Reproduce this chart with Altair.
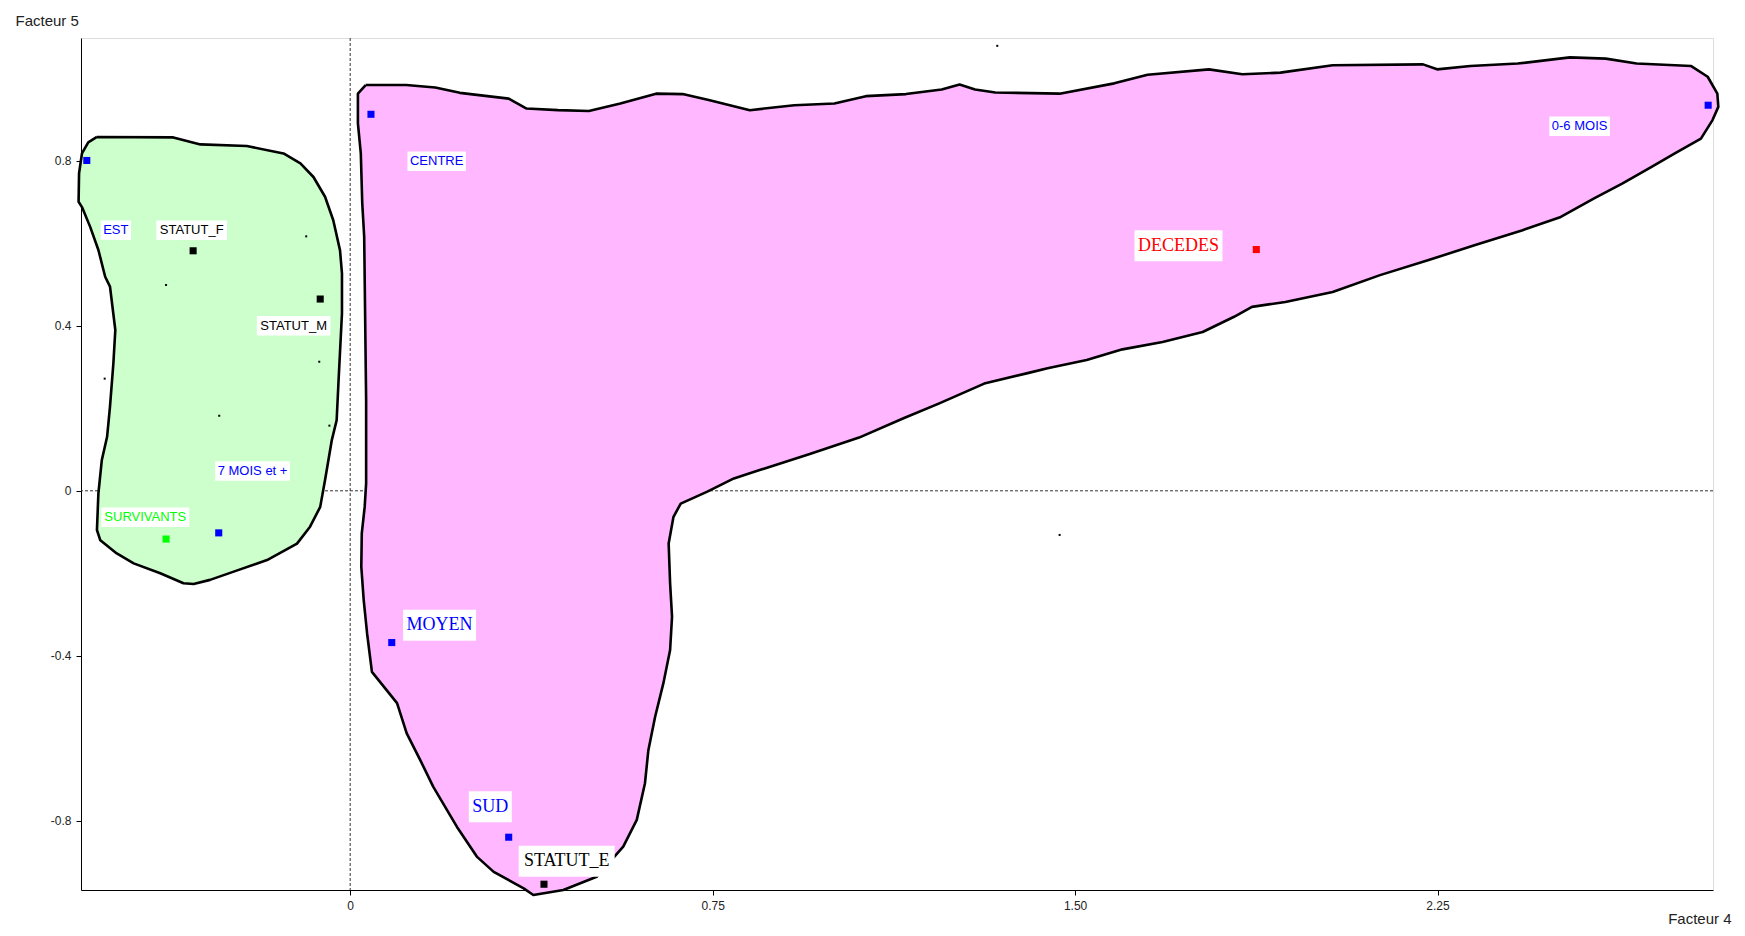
import altair as alt
import pandas as pd

# ---------------- data ----------------
labels = ["EST", "STATUT_F", "STATUT_M", "7 MOIS et +", "SURVIVANTS", "CENTRE",
          "MOYEN", "SUD", "STATUT_E", "DECEDES", "0-6 MOIS"]
point_x = [-0.545, -0.325, -0.062, -0.272, -0.381, 0.043, 0.086, 0.328, 0.401, 1.875, 2.810]
point_y = [0.801, 0.582, 0.465, -0.102, -0.117, 0.913, -0.368, -0.840, -0.954, 0.585, 0.935]
label_x = [-0.485, -0.328, -0.117, -0.202, -0.424, 0.179, 0.185, 0.290, 0.448, 1.714, 2.544]
label_y = [0.632, 0.632, 0.400, 0.048, -0.064, 0.799, -0.326, -0.766, -0.898, 0.594, 0.884]
serif_labels = ["MOYEN", "SUD", "STATUT_E", "DECEDES"]

# unlabelled minor points (tiny specks)
speck_x = [-0.091, -0.381, -0.064, -0.508, -0.271, -0.043, 1.339, 1.468]
speck_y = [0.617, 0.499, 0.313, 0.272, 0.182, 0.158, 1.079, -0.107]

# contour of the "survivants" group
green_x = [-0.524, -0.366, -0.310, -0.214, -0.138, -0.103, -0.076, -0.052, -0.035, -0.021,
           -0.017, -0.017, -0.024, -0.028, -0.038, -0.052, -0.062, -0.083, -0.110, -0.172,
           -0.241, -0.290, -0.324, -0.345, -0.393, -0.448, -0.483, -0.517, -0.524, -0.521,
           -0.514, -0.503, -0.497, -0.490, -0.486, -0.497, -0.507, -0.521, -0.538, -0.555,
           -0.562, -0.561, -0.555, -0.542]
green_y = [0.858, 0.857, 0.840, 0.836, 0.818, 0.794, 0.761, 0.713, 0.656, 0.583,
           0.527, 0.430, 0.268, 0.171, 0.123, 0.026, -0.039, -0.087, -0.128, -0.168,
           -0.196, -0.216, -0.226, -0.224, -0.200, -0.176, -0.152, -0.120, -0.095, -0.006,
           0.074, 0.131, 0.204, 0.309, 0.390, 0.495, 0.519, 0.584, 0.640, 0.688,
           0.701, 0.770, 0.818, 0.845]

# contour of the "décédés" group
pink_x = [0.032, 0.116, 0.176, 0.227, 0.328, 0.365, 0.430, 0.494, 0.559, 0.633,
          0.688, 0.744, 0.827, 0.919, 1.002, 1.067, 1.150, 1.224, 1.261, 1.293,
          1.335, 1.468, 1.581, 1.650, 1.777, 1.846, 1.925, 2.033, 2.220, 2.249,
          2.318, 2.416, 2.524, 2.598, 2.662, 2.775, 2.809, 2.829, 2.831, 2.819,
          2.795, 2.741, 2.692, 2.632, 2.574, 2.505, 2.426, 2.328, 2.230, 2.131,
          2.033, 1.935, 1.866, 1.829, 1.764, 1.681, 1.598, 1.524, 1.443, 1.404,
          1.312, 1.219, 1.145, 1.053, 0.951, 0.841, 0.794, 0.739, 0.684, 0.669,
          0.659, 0.662, 0.666, 0.662, 0.648, 0.631, 0.617, 0.610, 0.593, 0.565,
          0.510, 0.441, 0.379, 0.359, 0.297, 0.262, 0.221, 0.172, 0.145, 0.117,
          0.097, 0.045, 0.035, 0.028, 0.023, 0.024, 0.030, 0.033, 0.033, 0.029,
          0.025, 0.022, 0.016, 0.016]
pink_y = [0.984, 0.984, 0.978, 0.965, 0.951, 0.927, 0.923, 0.921, 0.939, 0.963,
          0.962, 0.947, 0.923, 0.935, 0.939, 0.957, 0.962, 0.973, 0.985, 0.973,
          0.966, 0.963, 0.988, 1.009, 1.022, 1.010, 1.014, 1.032, 1.034, 1.022,
          1.030, 1.036, 1.051, 1.048, 1.036, 1.030, 1.004, 0.963, 0.931, 0.899,
          0.854, 0.818, 0.785, 0.745, 0.709, 0.664, 0.632, 0.596, 0.559, 0.523,
          0.482, 0.458, 0.446, 0.422, 0.385, 0.361, 0.343, 0.317, 0.297, 0.286,
          0.260, 0.212, 0.176, 0.129, 0.089, 0.048, 0.030, -0.002, -0.031, -0.063,
          -0.128, -0.224, -0.305, -0.386, -0.467, -0.548, -0.629, -0.709, -0.798, -0.863,
          -0.936, -0.968, -0.980, -0.964, -0.924, -0.887, -0.815, -0.718, -0.653, -0.588,
          -0.515, -0.439, -0.346, -0.265, -0.184, -0.103, -0.039, 0.018, 0.220, 0.616,
          0.697, 0.818, 0.891, 0.963]

x_ticks = [0, 0.75, 1.5, 2.25]
y_ticks = [-0.8, -0.4, 0, 0.4, 0.8]

# ---------------- styles ----------------
point_colors = ["#0000ff", "#000000", "#000000", "#0000ff", "#00ff00", "#0000ff",
                "#0000ff", "#0000ff", "#000000", "#ff0000", "#0000ff"]
X_DOMAIN = [-0.557, 2.82]
Y_DOMAIN = [-0.968, 1.098]
W, H = 1632, 852
PX_X = W / (X_DOMAIN[1] - X_DOMAIN[0])
PX_Y = H / (Y_DOMAIN[1] - Y_DOMAIN[0])
SANS_SIZE, SERIF_SIZE = 13, 18

ARIAL = {" ": 278, "+": 584, "-": 333, "_": 556, "A": 667, "C": 722, "D": 722, "E": 667,
         "F": 611, "I": 278, "M": 833, "N": 722, "O": 778, "R": 722, "S": 667, "T": 611,
         "U": 722, "V": 667, "Y": 667, "e": 556, "t": 278}
TIMES = {"_": 500, "A": 722, "C": 667, "D": 722, "E": 611, "M": 889, "N": 722, "O": 722,
         "S": 556, "T": 611, "U": 722, "Y": 722}


def text_width(s, table, size):
    return sum(table.get(c, 556) for c in s) / 1000.0 * size


rows = []
for i, lab in enumerate(labels):
    serif = lab in serif_labels
    w = text_width(lab, TIMES if serif else ARIAL, SERIF_SIZE if serif else SANS_SIZE) + (7 if serif else 5)
    h = 31 if serif else 19.5
    rows.append(dict(label=lab, px=point_x[i], py=point_y[i], lx=label_x[i], ly=label_y[i],
                     font="serif" if serif else "sans",
                     bx1=label_x[i] - w / 2 / PX_X, bx2=label_x[i] + w / 2 / PX_X,
                     by1=label_y[i] - h / 2 / PX_Y, by2=label_y[i] + h / 2 / PX_Y))
df = pd.DataFrame(rows)

green_df = pd.DataFrame({"x": green_x + green_x[:1], "y": green_y + green_y[:1],
                         "i": list(range(len(green_x) + 1))})
pink_df = pd.DataFrame({"x": pink_x + pink_x[:1], "y": pink_y + pink_y[:1],
                        "i": list(range(len(pink_x) + 1))})
speck_df = pd.DataFrame({"x": speck_x, "y": speck_y})
zero_df = pd.DataFrame({"v": [0]})

xs = alt.Scale(domain=X_DOMAIN, nice=False, zero=False)
ys = alt.Scale(domain=Y_DOMAIN, nice=False, zero=False)

FONT = "Liberation Sans"
xaxis = alt.Axis(values=x_ticks, grid=False,
                 labelExpr="datum.value == 0 ? '0' : format(datum.value, '.2f')",
                 tickSize=5, labelPadding=5, labelFont=FONT, labelFontSize=12, labelColor="#222",
                 domainColor="black", tickColor="black",
                 title="Facteur 4", titleX=1650, titleY=28, titleAlign="right",
                 titleBaseline="middle", titleFont=FONT, titleFontSize=15,
                 titleFontWeight="normal", titleColor="#222")
yaxis = alt.Axis(values=y_ticks, grid=False,
                 labelExpr="datum.value == 0 ? '0' : replace(format(datum.value, '.1f'), '\u2212', '-')",
                 tickSize=5, labelPadding=5, labelFont=FONT, labelFontSize=12, labelColor="#222",
                 domainColor="black", tickColor="black",
                 title="Facteur 5", titleAngle=0, titleX=-66, titleY=-18, titleAlign="left",
                 titleBaseline="middle", titleFont=FONT, titleFontSize=15,
                 titleFontWeight="normal", titleColor="#222")


def X(field):
    return alt.X(field, type="quantitative", scale=xs, axis=xaxis)


def Y(field):
    return alt.Y(field, type="quantitative", scale=ys, axis=yaxis)


vrule = alt.Chart(zero_df).mark_rule(color="#333", strokeDash=[3, 2], strokeWidth=1).encode(x=X("v"))
hrule = alt.Chart(zero_df).mark_rule(color="#333", strokeDash=[3, 2], strokeWidth=1).encode(y=Y("v"))

green_poly = alt.Chart(green_df).mark_line(fill="#ccffcc", stroke="black", strokeWidth=2.6,
                                           strokeJoin="round").encode(
    x=X("x"), y=Y("y"), order=alt.Order("i:Q"))
pink_poly = alt.Chart(pink_df).mark_line(fill="#ffb8ff", stroke="black", strokeWidth=2.6,
                                         strokeJoin="round").encode(
    x=X("x"), y=Y("y"), order=alt.Order("i:Q"))

specks = alt.Chart(speck_df).mark_square(size=4, color="black", opacity=1).encode(x=X("x"), y=Y("y"))

color_scale = alt.Scale(domain=labels, range=point_colors)

points = alt.Chart(df).mark_square(size=50, opacity=1).encode(
    x=X("px"), y=Y("py"), color=alt.Color("label:N", scale=color_scale, legend=None))

boxes = alt.Chart(df).mark_rect(color="white").encode(
    x=X("bx1"), x2="bx2", y=Y("by1"), y2="by2")

sans_text = alt.Chart(df).transform_filter("datum.font == 'sans'").mark_text(
    font=FONT, fontSize=SANS_SIZE, align="center", baseline="middle").encode(
    x=X("lx"), y=Y("ly"), text="label:N",
    color=alt.Color("label:N", scale=color_scale, legend=None))

serif_text = alt.Chart(df).transform_filter("datum.font == 'serif'").mark_text(
    font="Liberation Serif", fontSize=SERIF_SIZE, align="center", baseline="middle").encode(
    x=X("lx"), y=Y("ly"), text="label:N",
    color=alt.Color("label:N", scale=color_scale, legend=None))

chart = alt.layer(vrule, hrule, green_poly, pink_poly, specks, points, boxes,
                  sans_text, serif_text).properties(
    width=W, height=H,
    autosize=alt.AutoSizeParams(type="none"),
    padding={"left": 73, "top": 30, "right": 24, "bottom": 38},
).configure_view(stroke="black", strokeWidth=1).configure(background="white")

chart.save("out.html", embed_options={"renderer": "svg", "actions": False})
